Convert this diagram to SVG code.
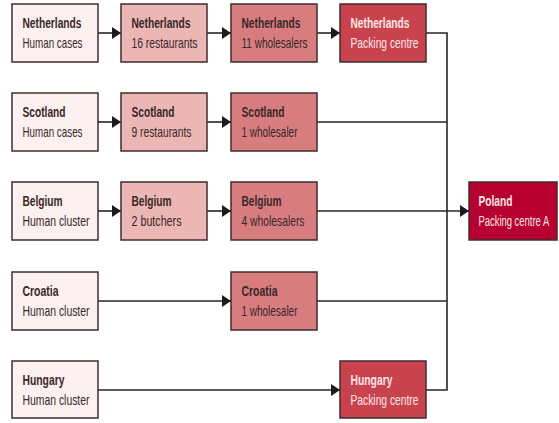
<svg xmlns="http://www.w3.org/2000/svg" width="559" height="423" viewBox="0 0 559 423">
<defs>
<marker id="ah" markerUnits="userSpaceOnUse" markerWidth="10" markerHeight="12" refX="9" refY="6" orient="auto">
<path d="M0,0 L9,6 L0,12 Z" fill="#1e1a1a"/>
</marker>
<style>
.b{stroke:#3f2e2e;stroke-width:1.5}
.c1{fill:#fcf0f0}
.c2{fill:#ebb6b4}
.c3{fill:#d77c7f}
.c4{fill:#c9434f}
.c5{fill:#b6002f}
text{font-family:"Liberation Sans",Arial,sans-serif;font-size:14.5px;fill:#3a2828}
.t{font-weight:bold}
.w{fill:#fbe6e6}
.cn{fill:none;stroke:#2a2424;stroke-width:1.6}
</style>
</defs>
<rect x="0" y="0" width="559" height="423" fill="#ffffff"/>
<g id="connectors">
<line class="cn" x1="98" y1="33" x2="121" y2="33" marker-end="url(#ah)"/>
<line class="cn" x1="207" y1="33" x2="231" y2="33" marker-end="url(#ah)"/>
<line class="cn" x1="317" y1="33" x2="340" y2="33" marker-end="url(#ah)"/>
<line class="cn" x1="98" y1="122" x2="121" y2="122" marker-end="url(#ah)"/>
<line class="cn" x1="207" y1="122" x2="231" y2="122" marker-end="url(#ah)"/>
<line class="cn" x1="98" y1="211" x2="121" y2="211" marker-end="url(#ah)"/>
<line class="cn" x1="207" y1="211" x2="231" y2="211" marker-end="url(#ah)"/>
<line class="cn" x1="98" y1="301" x2="231" y2="301" marker-end="url(#ah)"/>
<line class="cn" x1="98" y1="390" x2="340" y2="390" marker-end="url(#ah)"/>
<polyline class="cn" points="426,33 447,33 447,390 426,390"/>
<line class="cn" x1="317" y1="122" x2="447" y2="122"/>
<line class="cn" x1="317" y1="301" x2="447" y2="301"/>
<line class="cn" x1="317" y1="211" x2="469" y2="211" marker-end="url(#ah)"/>
</g>
<g id="nl-human"><rect class="b c1" x="12" y="4" width="86" height="58"/><text class="t" x="22.5" y="28" textLength="59" lengthAdjust="spacingAndGlyphs">Netherlands</text><text x="22.5" y="48" textLength="60" lengthAdjust="spacingAndGlyphs">Human cases</text></g>
<g id="nl-rest"><rect class="b c2" x="121" y="4" width="86" height="58"/><text class="t" x="131.5" y="28" textLength="59" lengthAdjust="spacingAndGlyphs">Netherlands</text><text x="131.5" y="48" textLength="66" lengthAdjust="spacingAndGlyphs">16 restaurants</text></g>
<g id="nl-whole"><rect class="b c3" x="231" y="4" width="86" height="58"/><text class="t" x="241.5" y="28" textLength="59" lengthAdjust="spacingAndGlyphs">Netherlands</text><text x="241.5" y="48" textLength="66" lengthAdjust="spacingAndGlyphs">11 wholesalers</text></g>
<g id="nl-pack"><rect class="b c4" x="340" y="4" width="86" height="58"/><text class="t w" x="350.5" y="28" textLength="59" lengthAdjust="spacingAndGlyphs">Netherlands</text><text class="w" x="350.5" y="48" textLength="68" lengthAdjust="spacingAndGlyphs">Packing centre</text></g>
<g id="sc-human"><rect class="b c1" x="12" y="93" width="86" height="58"/><text class="t" x="22.5" y="117" textLength="43" lengthAdjust="spacingAndGlyphs">Scotland</text><text x="22.5" y="137" textLength="60" lengthAdjust="spacingAndGlyphs">Human cases</text></g>
<g id="sc-rest"><rect class="b c2" x="121" y="93" width="86" height="58"/><text class="t" x="131.5" y="117" textLength="43" lengthAdjust="spacingAndGlyphs">Scotland</text><text x="131.5" y="137" textLength="60" lengthAdjust="spacingAndGlyphs">9 restaurants</text></g>
<g id="sc-whole"><rect class="b c3" x="231" y="93" width="86" height="58"/><text class="t" x="241.5" y="117" textLength="43" lengthAdjust="spacingAndGlyphs">Scotland</text><text x="241.5" y="137" textLength="56" lengthAdjust="spacingAndGlyphs">1 wholesaler</text></g>
<g id="be-human"><rect class="b c1" x="12" y="182" width="86" height="58"/><text class="t" x="22.5" y="206" textLength="40" lengthAdjust="spacingAndGlyphs">Belgium</text><text x="22.5" y="226" textLength="67" lengthAdjust="spacingAndGlyphs">Human cluster</text></g>
<g id="be-butch"><rect class="b c2" x="121" y="182" width="86" height="58"/><text class="t" x="131.5" y="206" textLength="40" lengthAdjust="spacingAndGlyphs">Belgium</text><text x="131.5" y="226" textLength="50" lengthAdjust="spacingAndGlyphs">2 butchers</text></g>
<g id="be-whole"><rect class="b c3" x="231" y="182" width="86" height="58"/><text class="t" x="241.5" y="206" textLength="40" lengthAdjust="spacingAndGlyphs">Belgium</text><text x="241.5" y="226" textLength="63" lengthAdjust="spacingAndGlyphs">4 wholesalers</text></g>
<g id="poland"><rect class="b c5" x="469" y="182" width="88" height="58"/><text class="t w" x="478.5" y="206" textLength="34" lengthAdjust="spacingAndGlyphs">Poland</text><text class="w" transform="translate(478.5,226) scale(0.65,1)" x="0" y="0">Packing centre A</text></g>
<g id="hr-human"><rect class="b c1" x="12" y="272" width="86" height="58"/><text class="t" x="22.5" y="296" textLength="36" lengthAdjust="spacingAndGlyphs">Croatia</text><text x="22.5" y="316" textLength="67" lengthAdjust="spacingAndGlyphs">Human cluster</text></g>
<g id="hr-whole"><rect class="b c3" x="231" y="272" width="86" height="58"/><text class="t" x="241.5" y="296" textLength="36" lengthAdjust="spacingAndGlyphs">Croatia</text><text x="241.5" y="316" textLength="56" lengthAdjust="spacingAndGlyphs">1 wholesaler</text></g>
<g id="hu-human"><rect class="b c1" x="12" y="361" width="86" height="57"/><text class="t" x="22.5" y="385" textLength="42" lengthAdjust="spacingAndGlyphs">Hungary</text><text x="22.5" y="405" textLength="67" lengthAdjust="spacingAndGlyphs">Human cluster</text></g>
<g id="hu-pack"><rect class="b c4" x="340" y="361" width="86" height="57"/><text class="t w" x="350.5" y="385" textLength="42" lengthAdjust="spacingAndGlyphs">Hungary</text><text class="w" x="350.5" y="405" textLength="68" lengthAdjust="spacingAndGlyphs">Packing centre</text></g>
</svg>
